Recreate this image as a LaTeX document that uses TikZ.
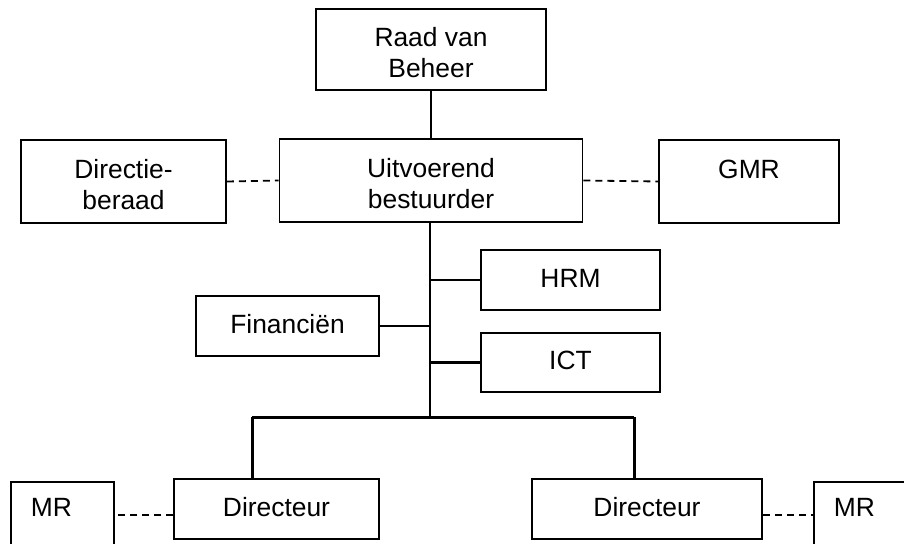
\documentclass[tikz,border=0pt]{standalone}
\usepackage{fontspec}
\setmainfont{Liberation Sans}
\begin{document}
\begin{tikzpicture}[x=1pt,y=-1pt,
  box/.style={draw,line width=1.6pt,inner sep=0pt,align=center,
    font=\fontsize{26.4}{31}\selectfont,text depth=4pt},
  two/.style={text height=56pt,text depth=0pt},
  link/.style={line width=2.1pt},
  bar/.style={line width=3pt},
  dashlink/.style={line width=1.8pt,dash pattern=on 7pt off 5pt}]
\clip (0,0) rectangle (904,543);
\fill[white] (0,0) rectangle (904,543);
\node[box,two,minimum width=230,minimum height=81] (raad) at (431,49.5) {Raad van\\Beheer};
\node[box,two,minimum width=303,minimum height=83] (uit) at (431,180.5) {Uitvoerend\\bestuurder};
\node[box,two,minimum width=205,minimum height=83] (dir) at (123.5,181.5) {Directie-\\beraad};
\node[box,two,minimum width=180,minimum height=83] (gmr) at (749,181.5) {GMR\\\mbox{}};
\node[box,minimum width=179,minimum height=60] (hrm) at (570.5,280) {HRM};
\node[box,minimum width=179,minimum height=59] (ict) at (570.5,362.5) {ICT};
\node[box,minimum width=183,minimum height=60] (fin) at (287.5,326) {Financiën};
\node[box,minimum width=205,minimum height=60] (dirL) at (276.5,509) {Directeur};
\node[box,minimum width=230,minimum height=60] (dirR) at (647,509) {Directeur};
\node[box,anchor=north west,minimum width=103,minimum height=80,text width=63pt,
  inner xsep=20pt,align=left,text depth=28pt] (mrL) at (10,481) {MR};
\node[box,anchor=north west,minimum width=103,minimum height=80,text width=63pt,
  inner xsep=20pt,align=left,text depth=28pt] (mrR) at (813,481) {MR};
\coordinate (t) at (430,417);
\coordinate (bL) at (252,417);
\coordinate (bR) at (634,417);
\draw[link] (raad.south) -- (uit.north);
\draw[link] (uit.south -| t) -- (t);
\draw[link] (hrm.west) -- (hrm.west -| t);
\draw[link] (ict.west) -- (ict.west -| t);
\draw[link] (fin.east) -- (fin.east -| t);
\draw[bar] (bL) -- (bR);
\draw[bar] (bL) -- (bL |- dirL.north);
\draw[bar] (bR) -- (bR |- dirR.north);
\draw[dashlink] (dir.east) -- (uit.west);
\draw[dashlink] (uit.east) -- (gmr.west);
\path (dirL.west) ++(0,6) coordinate (dl);
\path (dirR.east) ++(0,6) coordinate (dr);
\draw[dashlink] (dl) -- (dl -| mrL.east);
\draw[dashlink] (dr) -- (dr -| mrR.west);
\end{tikzpicture}
\end{document}
